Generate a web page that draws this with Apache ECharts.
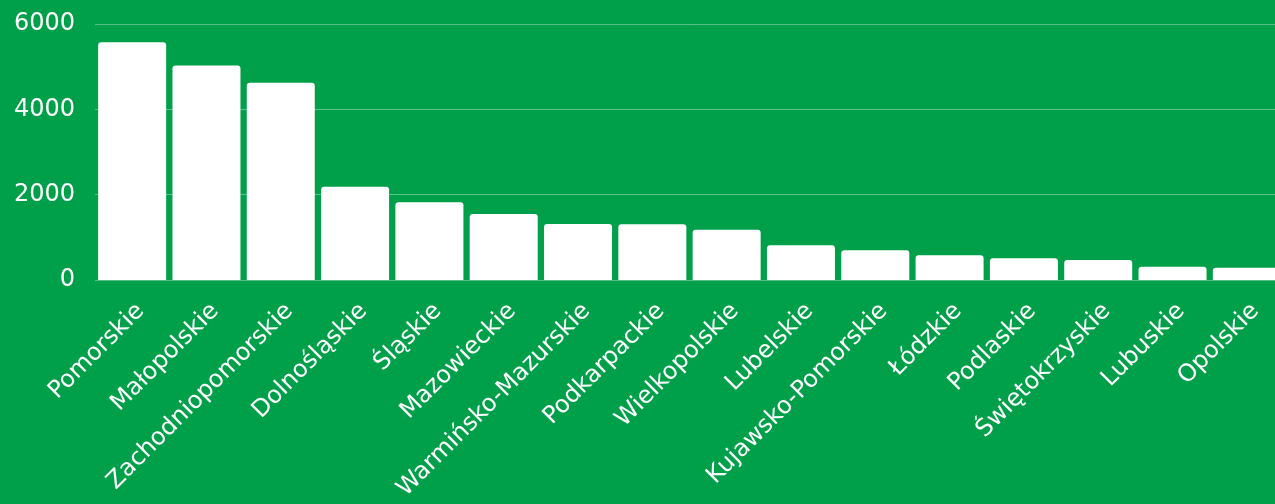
<!DOCTYPE html>
<html>
<head>
<meta charset="utf-8">
<script src="https://cdn.jsdelivr.net/npm/echarts@6/dist/echarts.min.js"></script>
<style>
  html, body { margin: 0; padding: 0; background: #00a04a; overflow: hidden; }
  #chart { width: 1300px; height: 504px; }
</style>
</head>
<body>
<div id="chart"></div>
<script>
// województwa
var regions = ['Pomorskie', 'Małopolskie', 'Zachodniopomorskie', 'Dolnośląskie', 'Śląskie',
    'Mazowieckie', 'Warmińsko-Mazurskie', 'Podkarpackie', 'Wielkopolskie', 'Lubelskie',
    'Kujawsko-Pomorskie', 'Łódzkie', 'Podlaskie', 'Świętokrzyskie', 'Lubuskie', 'Opolskie'];
var values = [5570, 5030, 4625, 2187, 1820, 1547, 1312, 1305, 1180, 813, 695, 578, 508, 469, 312, 289];
var yTicks = [0, 2000, 4000, 6000];

var myChart = echarts.init(document.getElementById('chart'));
var option = {
    backgroundColor: '#00a04a',
    animation: false,
    grid: {
        left: 95,
        right: 16,
        top: 24,
        bottom: 224
    },
    xAxis: {
        type: 'category',
        data: regions,
        axisLine: { show: false },
        axisTick: { show: false },
        axisLabel: {
            rotate: 45,
            interval: 0,
            margin: 19,
            verticalAlign: 'top',
            color: '#fff',
            fontSize: 24,
            fontFamily: 'DejaVu Sans'
        }
    },
    yAxis: {
        type: 'value',
        min: yTicks[0],
        max: yTicks[yTicks.length - 1],
        interval: 2000,
        axisLine: { show: false },
        axisTick: { show: false },
        splitLine: {
            show: true,
            lineStyle: { color: 'rgba(255,255,255,0.35)', width: 1 }
        },
        axisLabel: {
            margin: 20,
            color: '#fff',
            fontSize: 24,
            fontFamily: 'DejaVu Sans',
            formatter: function (v) { return String(v); }
        }
    },
    series: [{
        type: 'bar',
        data: values,
        barCategoryGap: '8.5%',
        itemStyle: {
            color: '#fff',
            borderRadius: [3, 3, 0, 0]
        }
    }]
};
myChart.setOption(option);
</script>
</body>
</html>
